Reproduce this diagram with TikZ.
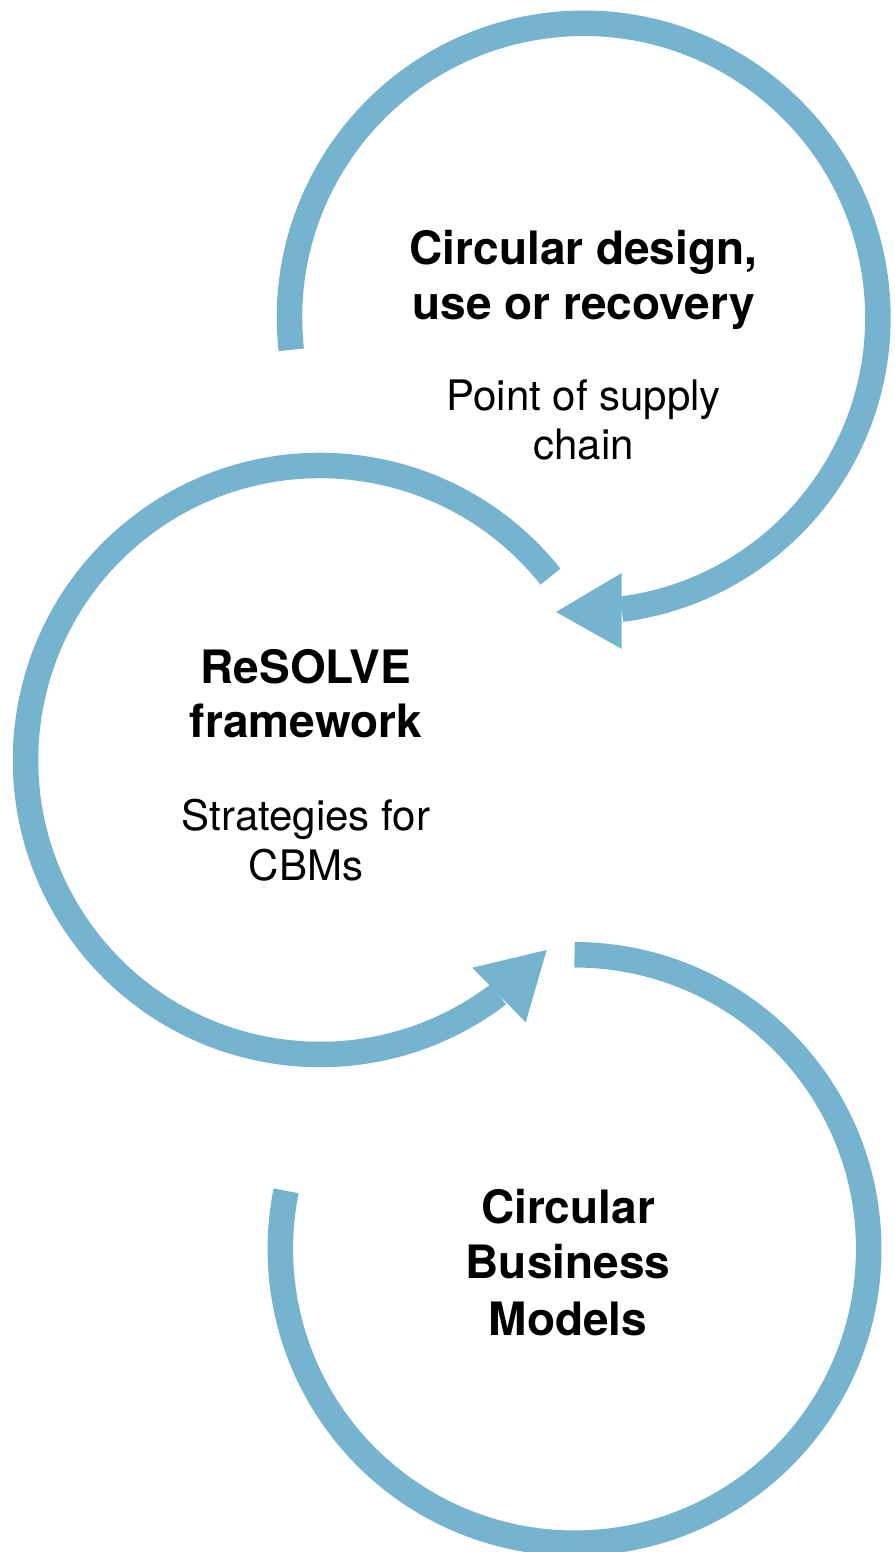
\documentclass[tikz,border=0pt]{standalone}
\usepackage{fontspec}
\setmainfont{TeX Gyre Heros}
\usetikzlibrary{calc}
\definecolor{ringblue}{RGB}{117,179,206}
\begin{document}
\begin{tikzpicture}[x=1pt,y=1pt,
  ring/.style={draw=ringblue, line width=25.5pt},
  head/.style={fill=ringblue},
  titletext/.style={font=\fontsize{46}{55}\selectfont\bfseries, inner sep=0pt, anchor=base},
  subtext/.style={font=\fontsize{42}{50}\selectfont, inner sep=0pt, anchor=base}]
\useasboundingbox (0,0) rectangle (894,1552);
\coordinate (c1) at (583.7,1234.5);
\coordinate (c2) at (320,792);
\coordinate (c3) at (574.5,303);
% ring 1 (top)
\draw[ring] (c1) ++(186.3:294.2) arc[start angle=186.3, end angle=-82.6, radius=294.2];
\fill[head] (621.7,979) -- (556,940) -- (621.7,903) -- cycle;
% ring 2 (middle)
\draw[ring] (c2) ++(38.5:294.5) arc[start angle=38.5, end angle=307.3, radius=294.5];
\fill[head] (472.3,584.3) -- (546.7,602) -- (525.7,529.7) -- cycle;
% ring 3 (bottom)
\draw[ring] (c3) ++(90:294.2) arc[start angle=90, end angle=-191.4, radius=294.2];
% texts
\node[titletext] (t1a) at (583.5,1287) {Circular design,};
\node[titletext] (t1b) at (583.5,1232) {use or recovery};
\node[subtext] (s1a) at (583.5,1141) {Point of supply};
\node[subtext] (s1b) at (583.5,1092) {chain};
\node[titletext] (t2a) at (306,868) {ReSOLVE};
\node[titletext] (t2b) at (306,814) {framework};
\node[subtext] (s2a) at (306,721) {Strategies for};
\node[subtext] (s2b) at (306,671) {CBMs};
\node[titletext] (t3a) at (568,328) {Circular};
\node[titletext] (t3b) at (568,273) {Business};
\node[titletext] (t3c) at (568,216) {Models};
\end{tikzpicture}
\end{document}
